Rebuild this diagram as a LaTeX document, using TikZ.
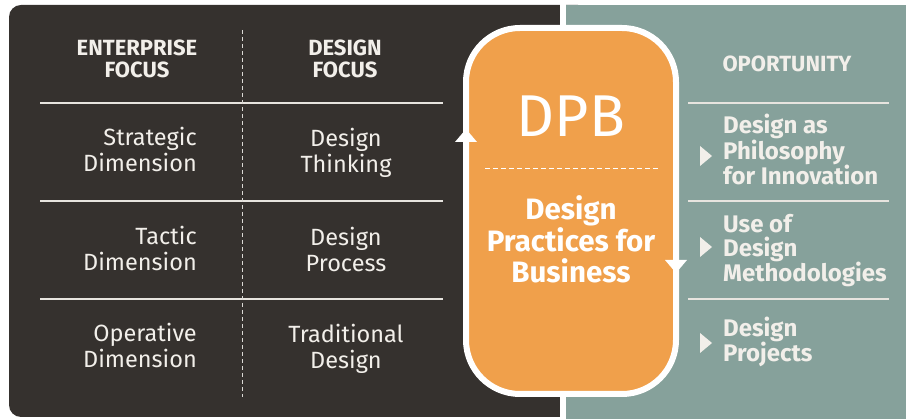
\documentclass[tikz,border=0pt]{standalone}
\usepackage{fontspec}
\setmainfont{Fira Sans}
\definecolor{panel}{HTML}{35312E}
\definecolor{sage}{HTML}{86A19B}
\definecolor{dpborange}{HTML}{F0A04B}
\definecolor{paper}{HTML}{F2EFEA}

\begin{document}
\begin{tikzpicture}[x=1pt,y=-1pt,
		head/.style={font=\bfseries\fontsize{22}{22}\selectfont,text=paper,align=center,anchor=base,inner sep=0},
		dim/.style={font=\fontsize{23.5}{26.5}\selectfont,text=paper,inner sep=0},
		opp/.style={font=\bfseries\fontsize{24}{24}\selectfont,text=paper,align=left,anchor=base west,inner sep=0},
		rule/.style={paper!90!gray,line width=1.3pt}]
			\useasboundingbox (0,0) rectangle (906,419);
			% dark panel, white gap, green panel
			\fill[panel,rounded corners=12pt] (9,5) rectangle (590,417);
			\fill[white] (560,0) rectangle (566,419);
			\fill[sage] (566,5) rectangle (906,419);
			% table on the left
			\foreach \y in {103,201,299}
			\draw[rule] (40,\y) -- (443,\y);
			\draw[paper!80!gray,line width=0.9pt,dash pattern=on 4pt off 3pt] (242,30) -- (242,397);
			\node[head] (enthead) at (137,78) {ENTERPRISE\\FOCUS};
			\node[head] (deshead) at (345,78) {DESIGN\\FOCUS};
			\foreach \y/\etext/\dtext [count=\i] in {172/{Strategic\\Dimension}/{Design\\Thinking},
					271/{Tactic\\Dimension}/{Design\\Process},
					368/{Operative\\Dimension}/{Traditional\\Design}}
			{
				\node[dim,align=right,anchor=base east] (ent\i) at (197,\y) {\etext};
				\node[dim,align=center,anchor=base] (des\i) at (346,\y+1) {\dtext};
			}
			% the DPB box
			\node[draw=white,line width=6pt,fill=dpborange,rounded corners=54pt,
				minimum width=210pt,minimum height=366pt,inner sep=0] (dpb) at (571,211) {};
			\fill[white] (455,142) -- (466,129) -- (477,142) -- cycle;
			\fill[white] (665,260) -- (676,273) -- (687,260) -- cycle;
			\node[font=\fontsize{59}{60}\selectfont,text=white,anchor=base,inner sep=0] (dpbname) at (571,137) {DPB};
			\draw[white,line width=0.9pt,dash pattern=on 5pt off 3pt] (485,168) -- (658,168);
			\node[font=\bfseries\fontsize{29.5}{31.5}\selectfont,text=white,align=center,anchor=base,inner sep=0]
				(dpbtext) at (571,283) {Design\\Practices for\\Business};
			% opportunities on the right
			\node[head] (opphead) at (787,72) {OPORTUNITY};
			\foreach \y in {103,201,299}
			\draw[rule] (688,\y) -- (889,\y);
			\foreach \y/\otext/\c [count=\i] in {185/{Design as\\Philosophy\\for Innovation}/156,
					282/{Use of\\Design\\Methodologies}/247,
					362/{Design\\Projects}/343}
			{
				\node[opp] (opp\i) at (723,\y) {\otext};
				\fill[paper] (700,\c-10) -- (712,\c) -- (700,\c+10) -- cycle;
			}
		\end{tikzpicture}
\end{document}
